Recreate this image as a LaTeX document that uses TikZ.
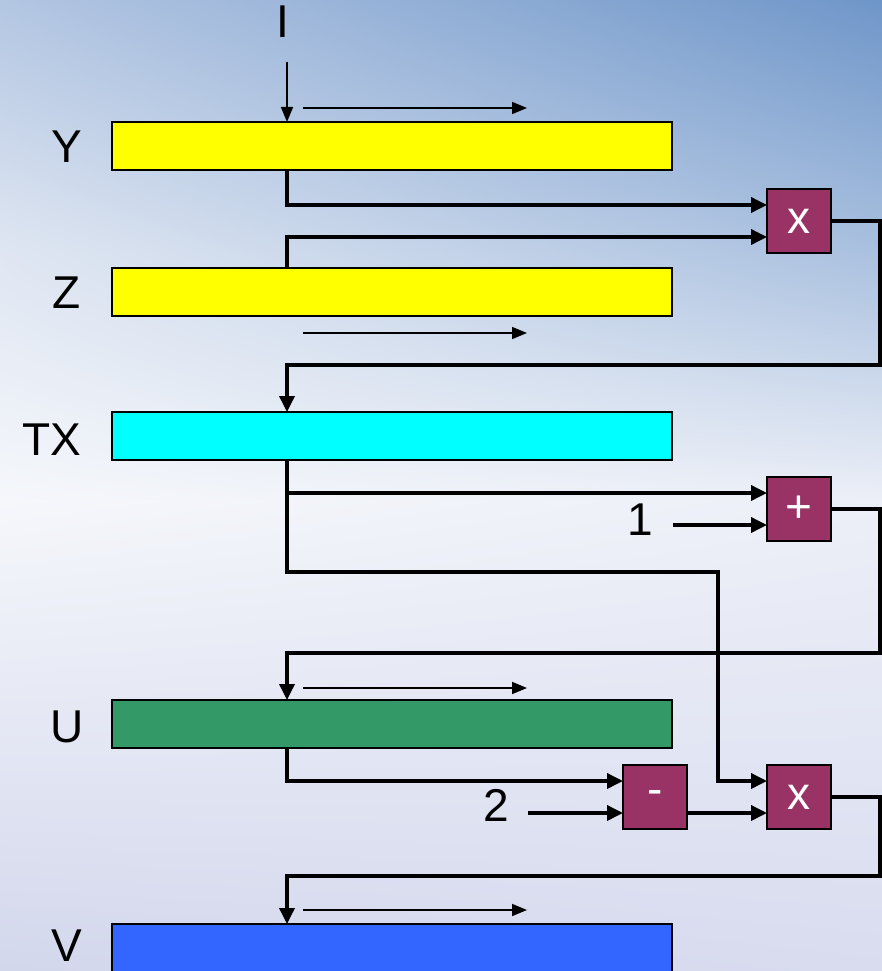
\documentclass[tikz,border=0pt]{standalone}
\usepackage{fontspec}
\setmainfont{Liberation Sans}
\usetikzlibrary{arrows.meta,shadings}
\definecolor{opc}{HTML}{993366}
\definecolor{ybar}{HTML}{FFFF00}
\definecolor{cbar}{HTML}{00FFFF}
\definecolor{ubar}{HTML}{339966}
\definecolor{vbar}{HTML}{3366FF}
\definecolor{aUL}{HTML}{B3C6E2}
\definecolor{aUR}{HTML}{6F96C9}
\definecolor{bUL}{HTML}{DFE6F2}
\definecolor{bUR}{HTML}{A9C0DF}
\definecolor{cUL}{HTML}{F5F7FB}
\definecolor{cUR}{HTML}{ECEFF7}
\definecolor{dUL}{HTML}{D3D7EC}
\definecolor{dUR}{HTML}{D9DCEF}
\begin{document}
\begin{tikzpicture}[x=1pt,y=-1pt,
 bar/.style={draw=black,line width=2pt,minimum width=560pt,minimum height=48pt,anchor=north west,inner sep=0pt,outer sep=0pt},
 op/.style={draw=black,line width=2pt,fill=opc,minimum size=64pt,anchor=north west,inner sep=0pt,outer sep=0pt,text=white,font=\fontsize{46}{46}\selectfont},
 lbl/.style={font=\fontsize{46}{46}\selectfont,inner sep=0pt},
 wire/.style={line width=3.5pt,-{Triangle[length=16pt,width=15pt]}},
 thinarrow/.style={line width=1.6pt,-{Triangle[length=15pt,width=12pt]}}
]
\useasboundingbox (0,0) rectangle (882,971);
% background
\shade[upper left=aUL,upper right=aUR,lower left=bUL,lower right=bUR] (0,0) rectangle (882,251);
\shade[upper left=bUL,upper right=bUR,lower left=cUL,lower right=cUR] (0,250) rectangle (882,501);
\shade[upper left=cUL,upper right=cUR,lower left=dUL,lower right=dUR] (0,500) rectangle (882,971);

% guide coordinates
\coordinate (c) at (287,0);
\coordinate (r) at (880,0);
\coordinate (k) at (718,572);
\coordinate (m1) at (287,365);
\coordinate (m2) at (287,653);
\coordinate (m3) at (287,876);
\coordinate (Itop) at (287,62);

% bars
\node[bar,fill=ybar] (Y) at (112,122) {};
\node[bar,fill=ybar] (Z) at (112,268) {};
\node[bar,fill=cbar] (TX) at (112,412) {};
\node[bar,fill=ubar] (U) at (112,700) {};
\node[bar,fill=vbar] (V) at (112,924) {};

% labels
\node[lbl] (I) at (283,22) {I};
\node[lbl] (lY) at (67,147) {Y};
\node[lbl] (lZ) at (67,293) {Z};
\node[lbl] (lTX) at (52,440) {TX};
\node[lbl] (lU) at (67,727) {U};
\node[lbl] (lV) at (67,946) {V};
\node[lbl] (one) at (640,520) {1};
\node[lbl] (two) at (496,805) {2};

% operators
\node[op] (X1) at (767,189) {x};
\node[op] (P) at (767,477) {+};
\node[op] (M) at (623,765) {-};
\node[op] (X2) at (767,765) {x};

% thin arrows
\coordinate (t1a) at (303,108); \coordinate (t1b) at (527,108);
\coordinate (t2a) at (303,333); \coordinate (t2b) at (527,333);
\coordinate (t3a) at (303,688); \coordinate (t3b) at (527,688);
\coordinate (t4a) at (303,910); \coordinate (t4b) at (527,910);
\draw[thinarrow] (t1a) -- (t1b);
\draw[thinarrow] (t2a) -- (t2b);
\draw[thinarrow] (t3a) -- (t3b);
\draw[thinarrow] (t4a) -- (t4b);
\draw[thinarrow] (Itop) -- (c |- Y.north);

% wires
\draw[wire] (c |- Y.south) |- ([yshift=16pt]X1.west);
\draw[wire] (c |- Z.north) |- ([yshift=-16pt]X1.west);
\draw[wire] (X1.east) -| (r |- m1) -- (m1) -- (c |- TX.north);

\draw[wire] (c |- TX.south) |- ([yshift=16pt]P.west);
\draw[wire] (c |- TX.south) |- (k) |- ([yshift=16pt]X2.west);
\path ([yshift=-16pt]P.west) coordinate (Pin2);
\coordinate (s1) at (673,0);
\draw[wire] (s1 |- Pin2) -- (Pin2);
\draw[wire] (P.east) -| (r |- m2) -- (m2) -- (c |- U.north);

\draw[wire] (c |- U.south) |- ([yshift=16pt]M.west);
\path ([yshift=-16pt]M.west) coordinate (Min2);
\coordinate (s2) at (528,0);
\draw[wire] (s2 |- Min2) -- (Min2);
\draw[wire] ([yshift=-16pt]M.east) -- ([yshift=-16pt]X2.west);
\draw[wire] (X2.east) -| (r |- m3) -- (m3) -- (c |- V.north);
\end{tikzpicture}
\end{document}
